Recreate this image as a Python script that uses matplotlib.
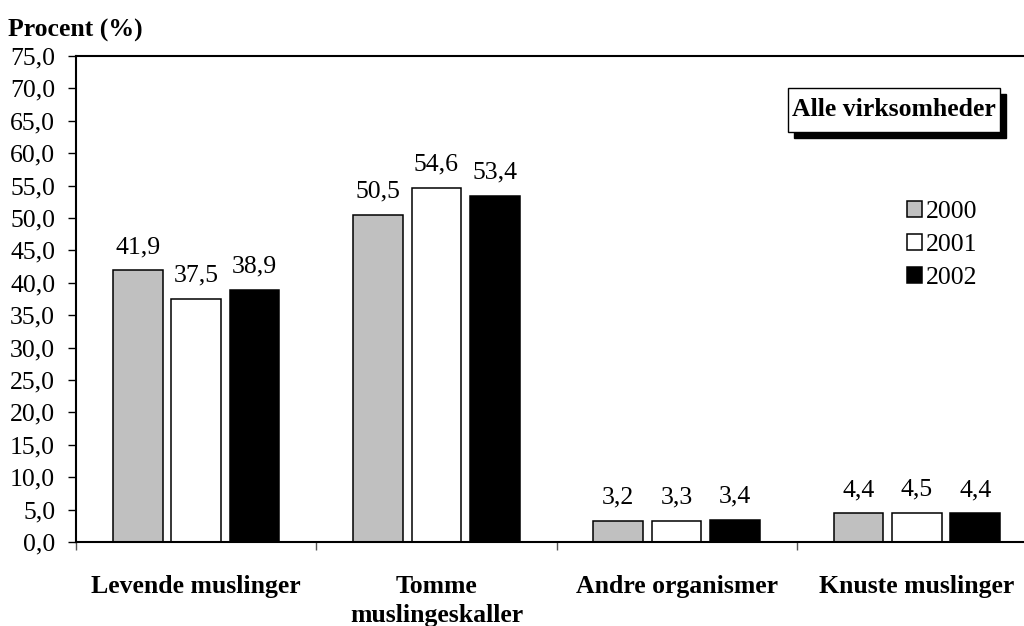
import matplotlib
matplotlib.use("Agg")
from matplotlib import pyplot as plt
from matplotlib.patches import Patch, Rectangle
import numpy as np

kategorier = ["Levende muslinger", "Tomme\nmuslingeskaller", "Andre organismer", "Knuste muslinger"]
aar = ["2000", "2001", "2002"]
v2000 = [41.9, 50.5, 3.2, 4.4]
v2001 = [37.5, 54.6, 3.3, 4.5]
v2002 = [38.9, 53.4, 3.4, 4.4]
farver = ["#c0c0c0", "white", "black"]

plt.rcParams['font.family'] = ['Liberation Serif', 'DejaVu Serif']
fs = 18.5

W, H = 1024, 626
fig = plt.figure(figsize=(W / 100, H / 100), dpi=100)
ax = fig.add_axes([76 / W, 1 - 542 / H, (1037 - 76) / W, 486 / H])

x = np.arange(len(kategorier))
bredde = 0.207
afstand = 0.243
for i, (vals, farve) in enumerate(zip([v2000, v2001, v2002], farver)):
    pos = x + (i - 1) * afstand
    ax.bar(pos, vals, width=bredde, color=farve, edgecolor='black', linewidth=1.1)
    for p, v in zip(pos, vals):
        ax.annotate(f"{v:.1f}".replace('.', ','), (p, v), xytext=(0, 9),
                    textcoords='offset points', ha='center', va='bottom', fontsize=fs)

ax.set_xlim(-0.5, len(kategorier) - 0.5)
ax.set_ylim(0, 75)
yt = np.arange(0, 76, 5)
ax.set_yticks(yt)
ax.set_yticklabels([f"{t:.1f}".replace('.', ',') for t in yt], fontsize=fs)
ax.tick_params(axis='y', direction='out', length=6, width=1, pad=9)

ax.set_xticks(x)
ax.set_xticklabels(kategorier, fontsize=fs, fontweight='bold', va='top', linespacing=1.3)
ax.tick_params(axis='x', which='major', length=0, pad=24)
ax.set_xticks(np.arange(-0.5, len(kategorier), 1), minor=True)
ax.tick_params(axis='x', which='minor', length=6, width=1, color='#555555')

for s in ['top', 'left', 'bottom']:
    ax.spines[s].set_linewidth(1.5)
ax.spines['right'].set_visible(False)

fig.text(8 / W, 1 - 30 / H, "Procent (%)", fontsize=fs, fontweight='bold', va='center', ha='left')

# titelboks med skygge
bx0, bx1, by0, by1 = 788, 1000, 88, 132
fig.add_artist(Rectangle(((bx0 + 6) / W, 1 - (by1 + 6) / H), (bx1 - bx0) / W, (by1 - by0) / H,
                         transform=fig.transFigure, fc='black', ec='black', lw=1))
fig.add_artist(Rectangle((bx0 / W, 1 - by1 / H), (bx1 - bx0) / W, (by1 - by0) / H,
                         transform=fig.transFigure, fc='white', ec='black', lw=1))
fig.text((bx0 + bx1) / 2 / W, 1 - (by0 + by1) / 2 / H, "Alle virksomheder", fontsize=fs,
         fontweight='bold', ha='center', va='center')

handles = [Patch(facecolor=f, edgecolor='black', linewidth=1.1) for f in farver]
fig.legend(handles, aar, loc='center left', bbox_to_anchor=(907 / W, 1 - 245 / H),
           frameon=False, fontsize=fs, handlelength=0.6, handleheight=0.6,
           handletextpad=0.15, labelspacing=0.42, borderpad=0, borderaxespad=0)

fig.savefig("out.png", dpi=100)
